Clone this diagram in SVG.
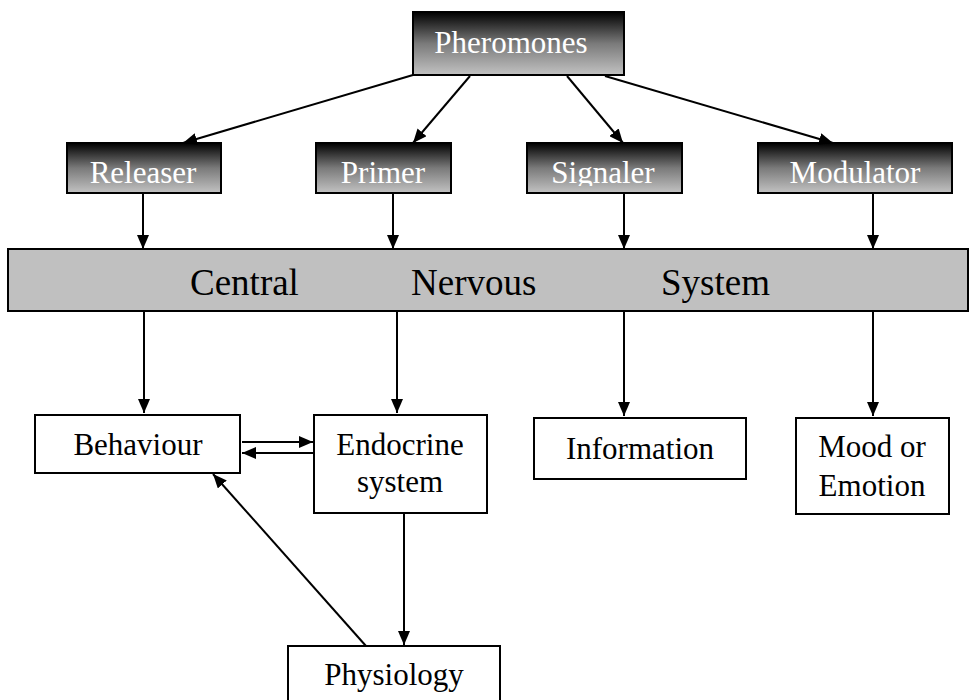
<svg xmlns="http://www.w3.org/2000/svg" width="977" height="700" viewBox="0 0 977 700">
<style>
.box{fill:#fff;stroke:#000;stroke-width:2}
.dark{fill:url(#g);stroke:#000;stroke-width:2}
.bar{fill:#c0c0c0;stroke:#000;stroke-width:2}
.t{font-family:"Liberation Serif","Times New Roman",serif;font-size:31px;fill:#000;text-anchor:middle}
.w{fill:#fff}
.big{font-size:37px;text-anchor:start}
.c{stroke:#000;stroke-width:2;fill:none;marker-end:url(#a)}
</style>
<defs>
<linearGradient id="g" x1="0" y1="0" x2="0" y2="1">
<stop offset="0" stop-color="#000"/>
<stop offset="0.5" stop-color="#7a7a7a"/>
<stop offset="1" stop-color="#c2c2c2"/>
</linearGradient>
<marker id="a" markerUnits="userSpaceOnUse" markerWidth="14" markerHeight="12" refX="14" refY="6" orient="auto">
<path d="M0,0 L14,6 L0,12 z" fill="#000"/>
</marker>
<clipPath id="cs"><rect x="527" y="143" width="155" height="43"/></clipPath>
</defs>
<g id="pheromones"><rect class="dark" x="413" y="12" width="211" height="63"/><text class="t w" x="511" y="53">Pheromones</text></g>
<g id="releaser"><rect class="dark" x="67" y="143" width="154" height="50"/><text class="t w" x="143" y="183">Releaser</text></g>
<g id="primer"><rect class="dark" x="316" y="143" width="135" height="50"/><text class="t w" x="383" y="183">Primer</text></g>
<g id="signaler"><rect class="dark" x="527" y="143" width="155" height="50"/><text class="t w" x="603" y="183" clip-path="url(#cs)">Signaler</text></g>
<g id="modulator"><rect class="dark" x="758" y="143" width="194" height="50"/><text class="t w" x="855" y="183">Modulator</text></g>
<g id="cns"><rect class="bar" x="8" y="249" width="960" height="62"/>
<text class="t big" x="190" y="295">Central</text><text class="t big" x="411" y="295">Nervous</text><text class="t big" x="661" y="295">System</text></g>
<g id="behaviour"><rect class="box" x="35" y="415" width="205" height="58"/><text class="t" x="138" y="455">Behaviour</text></g>
<g id="endocrine"><rect class="box" x="314" y="415" width="173" height="98"/><text class="t" x="400" y="455">Endocrine</text><text class="t" x="400" y="492">system</text></g>
<g id="information"><rect class="box" x="534" y="418" width="212" height="61"/><text class="t" x="640" y="459">Information</text></g>
<g id="mood"><rect class="box" x="796" y="418" width="153" height="96"/><text class="t" x="872" y="457">Mood or</text><text class="t" x="872" y="496">Emotion</text></g>
<g id="physiology"><rect class="box" x="288" y="646" width="212" height="58"/><text class="t" x="394" y="685">Physiology</text></g>
<g id="connectors">
<line class="c" x1="413" y1="75" x2="183" y2="143"/>
<line class="c" x1="470" y1="76" x2="413" y2="143"/>
<line class="c" x1="567" y1="76" x2="623" y2="143"/>
<line class="c" x1="605" y1="76" x2="833" y2="143"/>
<line class="c" x1="143" y1="193" x2="143" y2="249"/>
<line class="c" x1="393" y1="193" x2="393" y2="249"/>
<line class="c" x1="624" y1="193" x2="624" y2="249"/>
<line class="c" x1="873" y1="193" x2="873" y2="249"/>
<line class="c" x1="144" y1="311" x2="144" y2="413"/>
<line class="c" x1="397" y1="311" x2="397" y2="413"/>
<line class="c" x1="624" y1="311" x2="624" y2="416"/>
<line class="c" x1="873" y1="311" x2="873" y2="416"/>
<line class="c" x1="242" y1="442" x2="313" y2="442"/>
<line class="c" x1="314" y1="453" x2="242" y2="453"/>
<line class="c" x1="404" y1="513" x2="404" y2="645"/>
<line class="c" x1="366" y1="646" x2="213" y2="474"/>
</g>
</svg>
